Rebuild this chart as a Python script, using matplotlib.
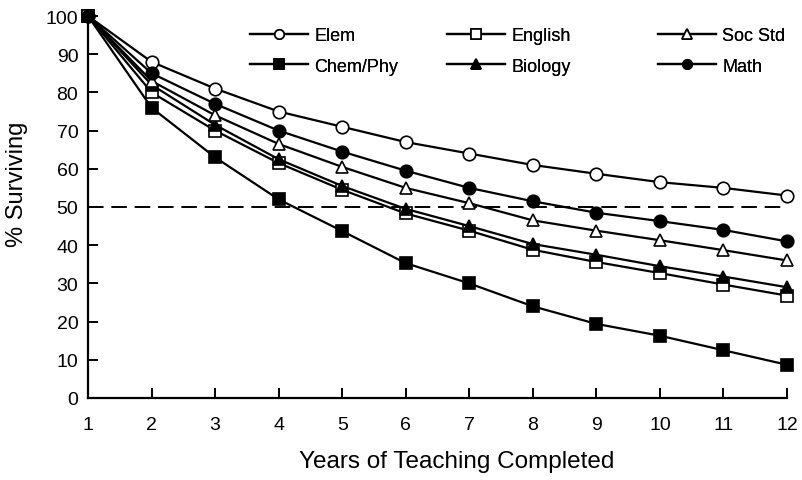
import matplotlib
matplotlib.use("Agg")
import matplotlib.pyplot as plt
import numpy as np

years = list(range(1, 13))
elem = [100, 88, 81, 75, 71, 67, 64, 61, 58.7, 56.5, 55, 53]
english = [100, 80, 70, 61.5, 54.5, 48.3, 43.8, 38.8, 35.6, 32.7, 29.7, 26.8]
soc_std = [100, 83, 74, 66.5, 60.5, 55, 51, 46.5, 43.8, 41.3, 38.7, 36]
chem_phy = [100, 76, 63, 52, 43.7, 35.3, 30, 24, 19.4, 16.3, 12.5, 8.7]
biology = [100, 82, 71.5, 62.5, 55.5, 49.5, 45, 40.3, 37.5, 34.5, 31.8, 29]
math = [100, 85, 77, 70, 64.5, 59.5, 55, 51.5, 48.5, 46.3, 44, 41]
half_line = 50

plt.rcParams['font.family'] = ['Liberation Sans', 'DejaVu Sans']

W, H = 802, 481
fig = plt.figure(figsize=(W / 100, H / 100), dpi=100)
ax = fig.add_axes([88 / W, 1 - 399 / H, 699 / W, 382 / H])

series = [
    ("Elem", elem, "o", "white"),
    ("Chem/Phy", chem_phy, "s", "black"),
    ("English", english, "s", "white"),
    ("Biology", biology, "^", "black"),
    ("Soc Std", soc_std, "^", "white"),
    ("Math", math, "o", "black"),
]

ax.plot([1, 12], [half_line, half_line], color="black", lw=1.4,
        linestyle=(0, (8, 4)), zorder=1)

handles = []
for name, vals, mk, fc in series:
    h, = ax.plot(years, vals, color="black", lw=1.6, marker=mk, markersize=9,
                 markerfacecolor=fc, markeredgecolor="black", markeredgewidth=1.2,
                 label=name, clip_on=False, zorder=3)
    handles.append(h)

ax.set_xlim(1, 12)
ax.set_ylim(0, 100)
ax.set_xticks(years)
ax.set_yticks(range(0, 101, 10))
ax.spines['top'].set_visible(False)
ax.spines['right'].set_visible(False)
ax.spines['left'].set_linewidth(1.6)
ax.spines['bottom'].set_linewidth(1.6)
ax.tick_params(direction='in', length=7, width=1.4, labelsize=14)
ax.tick_params(axis='x', pad=13)
ax.tick_params(axis='y', pad=7)

ax.set_xlabel("Years of Teaching Completed", fontsize=17.5)
ax.xaxis.set_label_coords((457 - 88) / 699, (399 - 451) / 382)
ax.set_ylabel("% Surviving", fontsize=17)
ax.yaxis.set_label_coords((28 - 88) / 699, (399 - 184) / 382)

# one legend per column, so each column starts where it does in the original
col_x = [250, 447, 658]
for i, x0 in enumerate(col_x):
    leg = fig.legend(handles=handles[2 * i:2 * i + 2], frameon=False, fontsize=13,
                     loc='upper left', bbox_to_anchor=(x0 / W, 1 - 28 / H),
                     borderpad=0, borderaxespad=0, handlelength=3.2,
                     handletextpad=0.35, labelspacing=0.75, markerscale=0.75)
    fig.add_artist(leg)

fig.savefig("out.png", dpi=100)
